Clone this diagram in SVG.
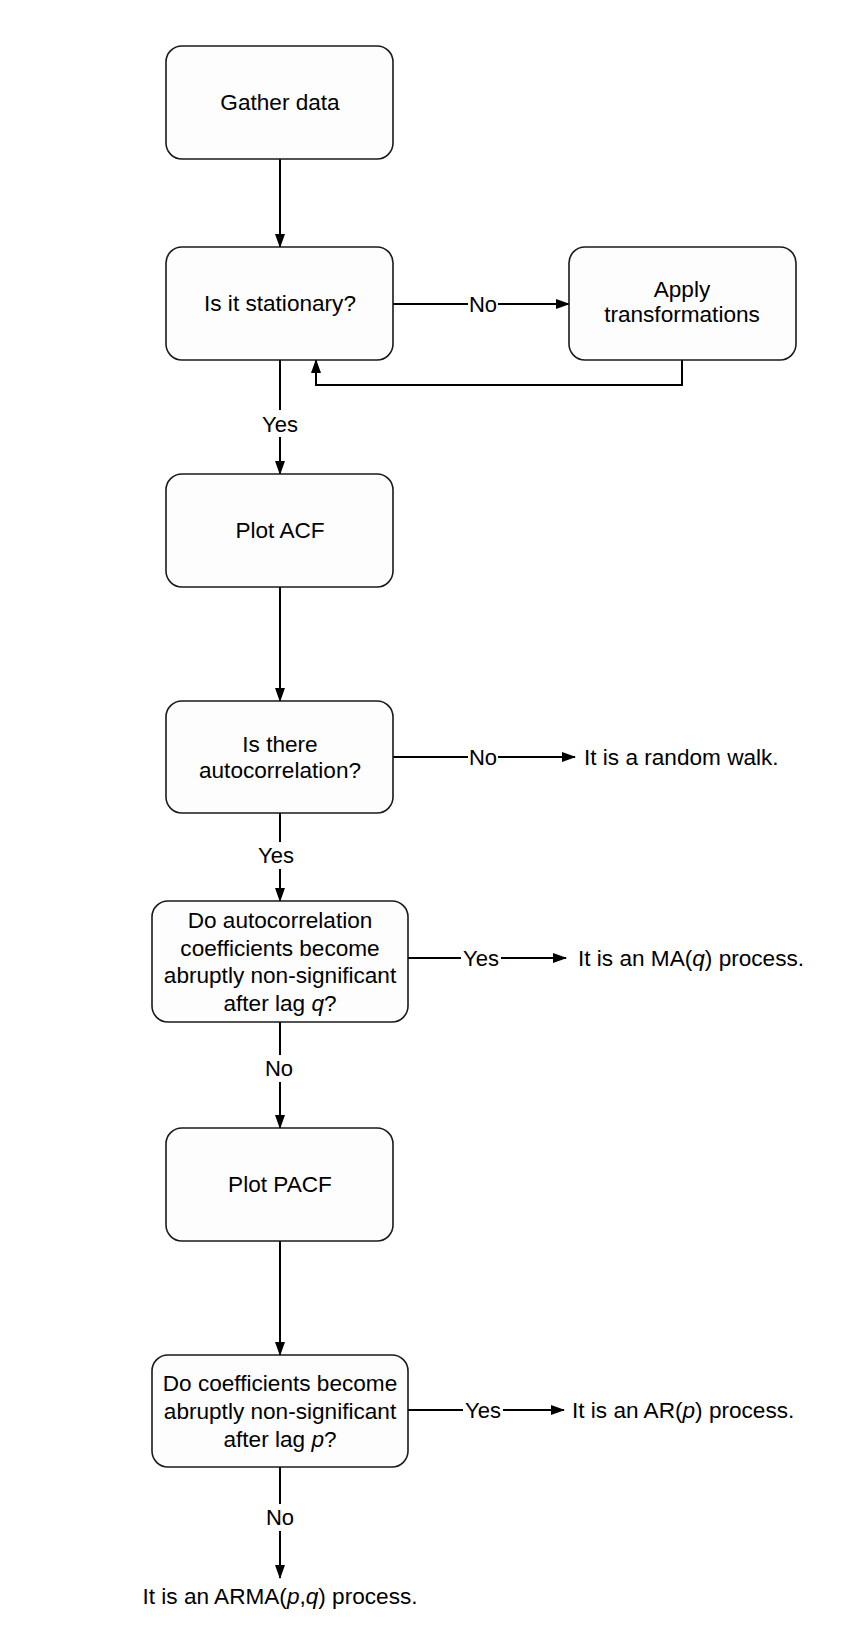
<svg xmlns="http://www.w3.org/2000/svg" width="846" height="1644" viewBox="0 0 846 1644">
<style>
.box{fill:#fdfdfd;stroke:#1a1a1a;stroke-width:1.6}
.t{font-family:"Liberation Sans",Arial,sans-serif;font-size:22.6px;fill:#000;text-anchor:middle}
.ts{font-family:"Liberation Sans",Arial,sans-serif;font-size:22.6px;fill:#000;text-anchor:start}
.lbl{font-family:"Liberation Sans",Arial,sans-serif;font-size:22px;fill:#000;text-anchor:middle}
.ln{fill:none;stroke:#000;stroke-width:2}
.a{marker-end:url(#ah)}
</style>
<defs>
<marker id="ah" markerWidth="14" markerHeight="10" refX="13" refY="5" orient="auto" markerUnits="userSpaceOnUse">
<path d="M0,0 L14,5 L0,10 Z" fill="#000"/>
</marker>
</defs>
<rect width="846" height="1644" fill="#fff"/>

<g id="connectors">
<path class="ln a" d="M280,159 V247"/>
<path class="ln" d="M393,304 H468"/>
<path class="ln a" d="M498,304 H569"/>
<text class="lbl" x="483" y="312">No</text>
<path class="ln a" d="M682,360 V385 H316 V360"/>
<path class="ln" d="M280,360 V410"/>
<path class="ln a" d="M280,437 V474"/>
<text class="lbl" x="280" y="431.5">Yes</text>
<path class="ln" d="M280,813 V842"/>
<path class="ln a" d="M280,869 V901"/>
<text class="lbl" x="276" y="863">Yes</text>
<path class="ln a" d="M280,587 V701"/>
<path class="ln" d="M393,757 H468"/>
<path class="ln a" d="M498,757 H575"/>
<text class="lbl" x="483" y="765">No</text>
<path class="ln" d="M408,958 H461"/>
<path class="ln a" d="M501,958 H566"/>
<text class="lbl" x="481" y="966">Yes</text>
<path class="ln" d="M280,1022 V1055"/>
<path class="ln a" d="M280,1082 V1128"/>
<text class="lbl" x="279" y="1076">No</text>
<path class="ln a" d="M280,1241 V1355"/>
<path class="ln" d="M408,1410 H463"/>
<path class="ln a" d="M503,1410 H564"/>
<text class="lbl" x="483" y="1418">Yes</text>
<path class="ln" d="M280,1467 V1504"/>
<path class="ln a" d="M280,1531 V1578"/>
<text class="lbl" x="280" y="1525">No</text>
</g>

<g id="gather">
<rect class="box" x="166" y="46" width="227" height="113" rx="16"/>
<text class="t" x="280" y="110">Gather data</text>
</g>
<g id="stationary">
<rect class="box" x="166" y="247" width="227" height="113" rx="16"/>
<text class="t" x="280" y="311">Is it stationary?</text>
</g>
<g id="transform">
<rect class="box" x="569" y="247" width="227" height="113" rx="16"/>
<text class="t" x="682" y="297">Apply</text>
<text class="t" x="682" y="322">transformations</text>
</g>
<g id="acf">
<rect class="box" x="166" y="474" width="227" height="113" rx="16"/>
<text class="t" x="280" y="538">Plot ACF</text>
</g>
<g id="autocorr">
<rect class="box" x="166" y="701" width="227" height="112" rx="16"/>
<text class="t" x="280" y="752">Is there</text>
<text class="t" x="280" y="778">autocorrelation?</text>
</g>
<g id="randomwalk">
<text class="ts" x="584" y="765">It is a random walk.</text>
</g>
<g id="ma-question">
<rect class="box" x="152" y="901" width="256" height="121" rx="16"/>
<text class="t" x="280" y="928">Do autocorrelation</text>
<text class="t" x="280" y="955.5">coefficients become</text>
<text class="t" x="280" y="983">abruptly non-significant</text>
<text class="t" x="280" y="1010.5">after lag <tspan font-style="italic">q</tspan>?</text>
</g>
<g id="ma-result">
<text class="ts" x="578" y="966">It is an MA(<tspan font-style="italic">q</tspan>) process.</text>
</g>
<g id="pacf">
<rect class="box" x="166" y="1128" width="227" height="113" rx="16"/>
<text class="t" x="280" y="1192">Plot PACF</text>
</g>
<g id="ar-question">
<rect class="box" x="152" y="1355" width="256" height="112" rx="16"/>
<text class="t" x="280" y="1391">Do coefficients become</text>
<text class="t" x="280" y="1419">abruptly non-significant</text>
<text class="t" x="280" y="1446.5">after lag <tspan font-style="italic">p</tspan>?</text>
</g>
<g id="ar-result">
<text class="ts" x="572" y="1418">It is an AR(<tspan font-style="italic">p</tspan>) process.</text>
</g>
<g id="arma-result">
<text class="t" x="280" y="1604">It is an ARMA(<tspan font-style="italic">p</tspan>,<tspan font-style="italic">q</tspan>) process.</text>
</g>
</svg>
